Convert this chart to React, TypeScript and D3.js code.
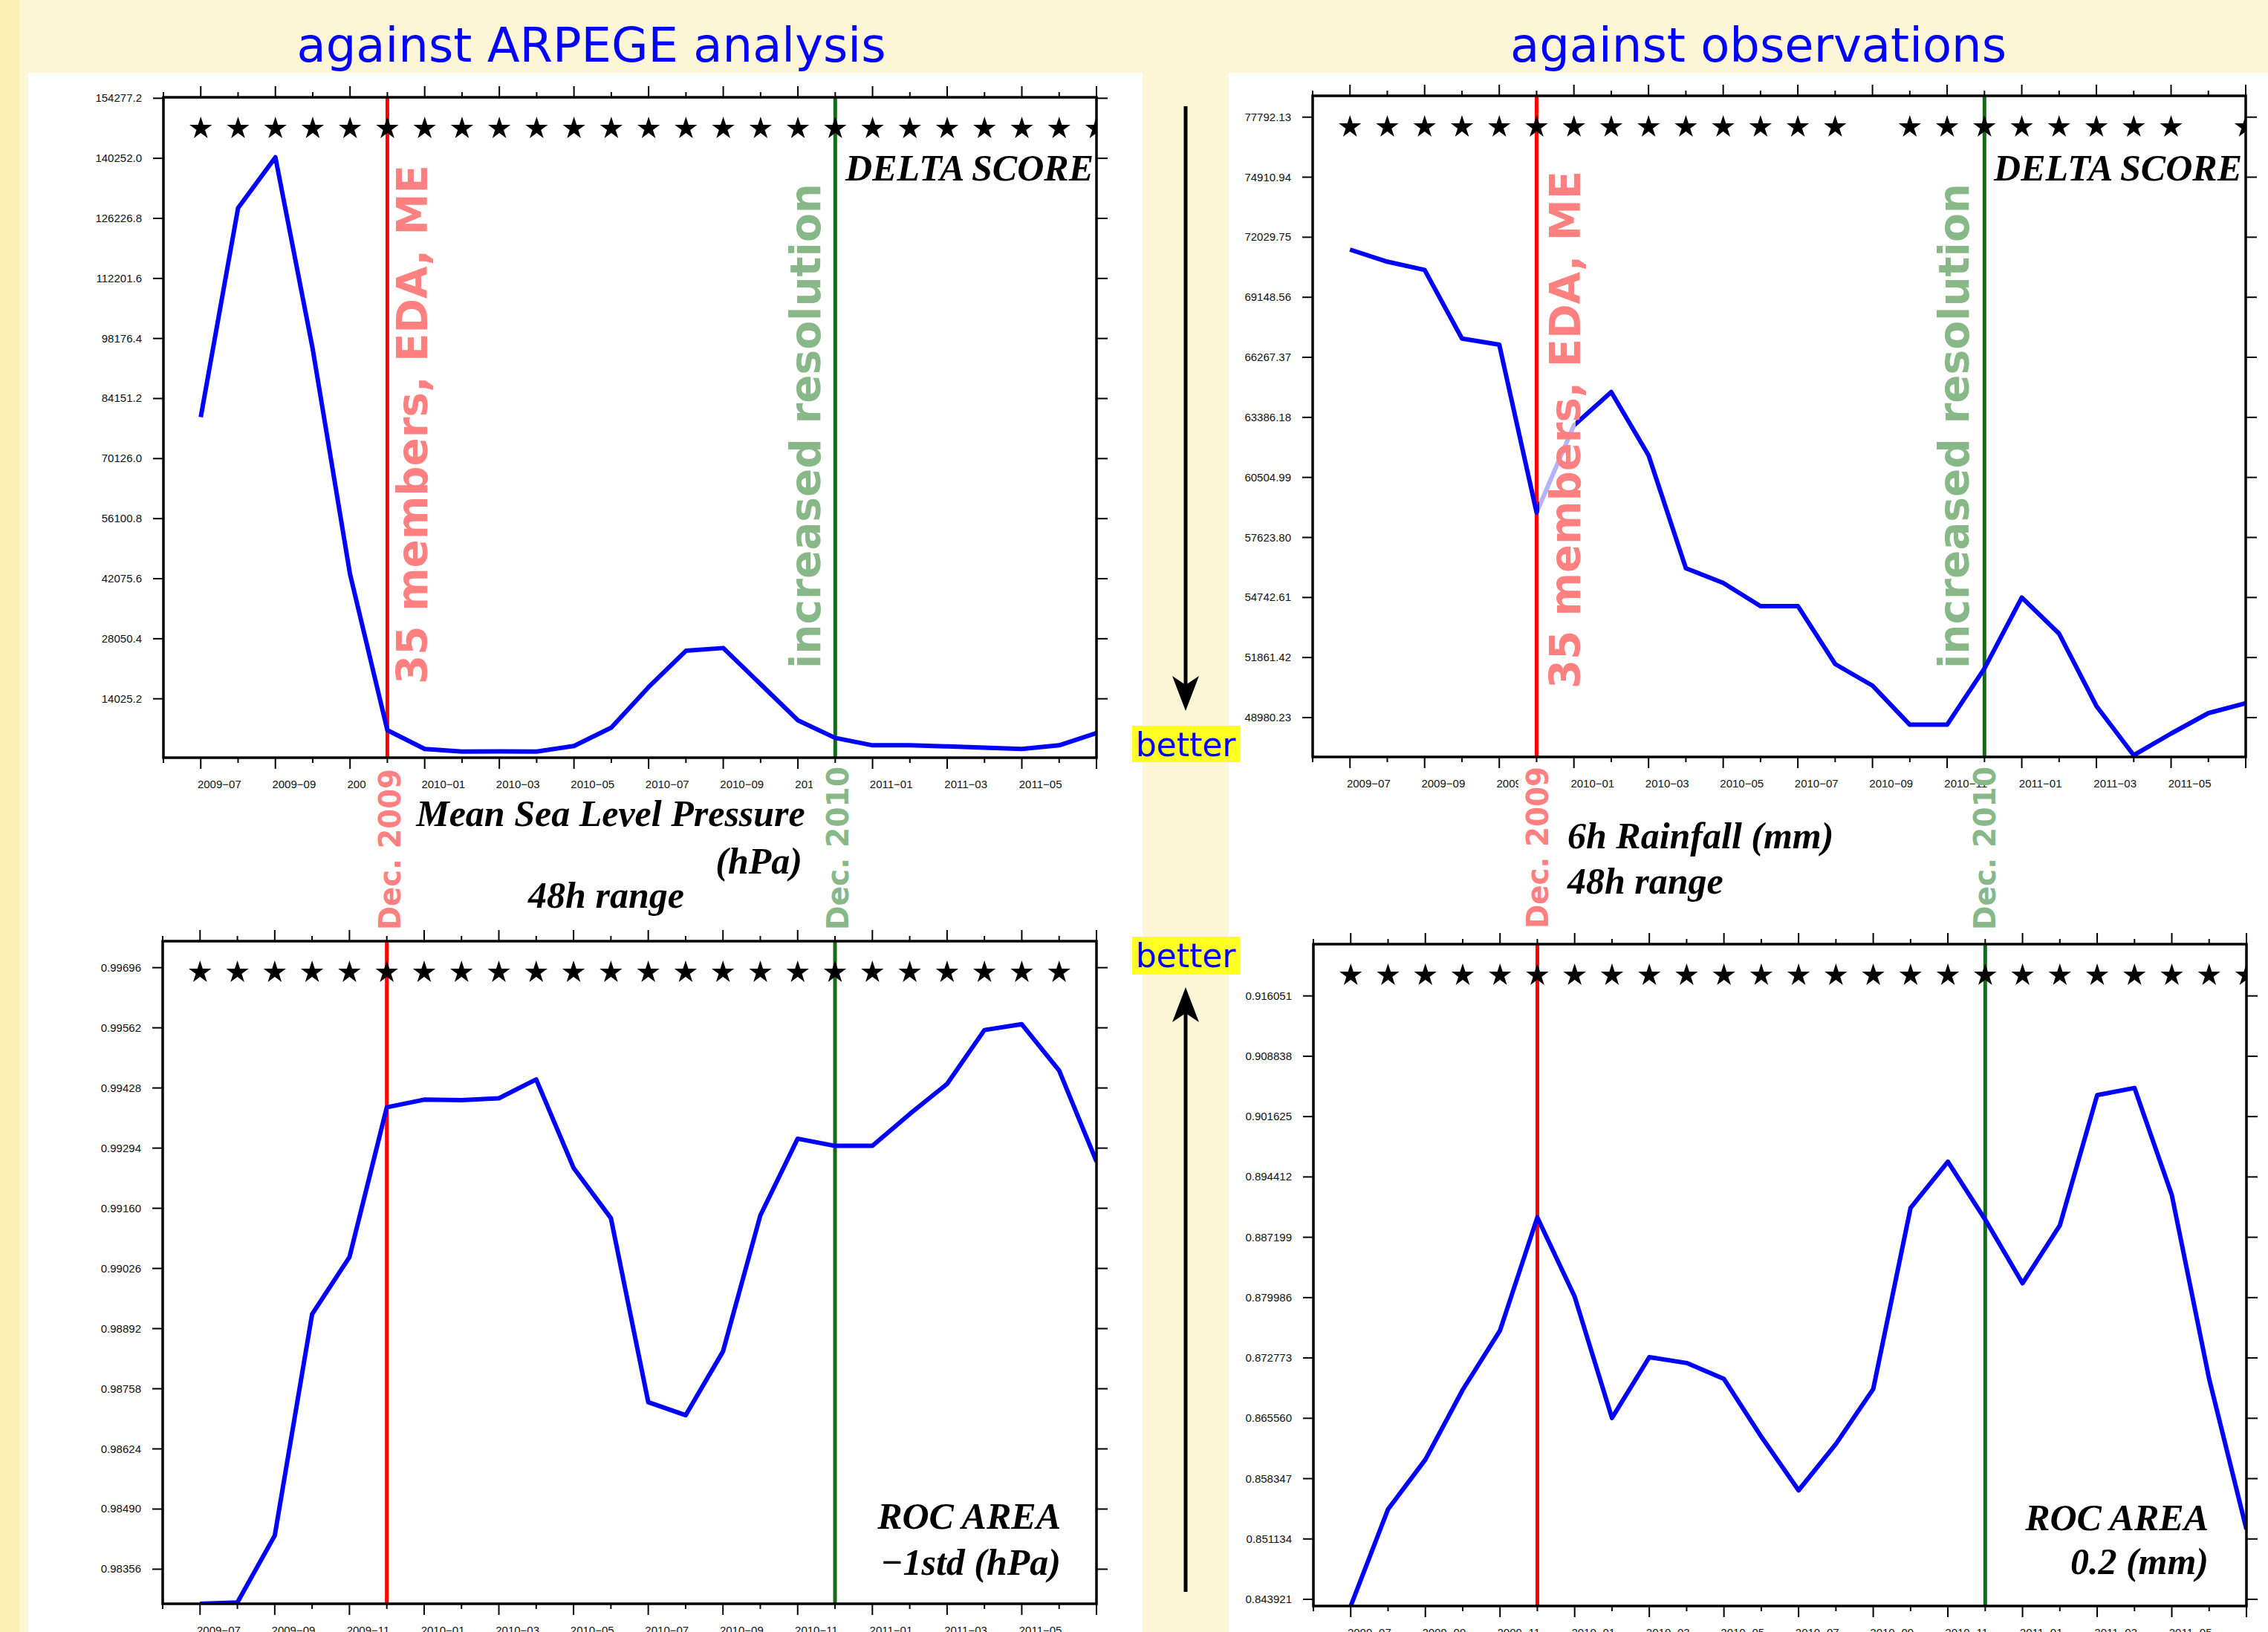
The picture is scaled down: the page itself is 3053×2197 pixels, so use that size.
import React from 'react';
import * as d3 from 'd3';

const W = 3053;
const H = 2197;

// months on the x axis, index 0 = 2009-06 (frame left)
const months = [
  '2009-06', '2009-07', '2009-08', '2009-09', '2009-10', '2009-11', '2009-12',
  '2010-01', '2010-02', '2010-03', '2010-04', '2010-05', '2010-06', '2010-07',
  '2010-08', '2010-09', '2010-10', '2010-11', '2010-12', '2011-01', '2011-02',
  '2011-03', '2011-04', '2011-05', '2011-06', '2011-07',
];

// series values, one per month from 2009-07 to 2011-07
const mslpDelta = [
  79800, 128640, 140490, 95700, 43110, 6680, 2300, 1700, 1750, 1700, 3000, 7300,
  16760, 25240, 25880, 17440, 9000, 4890, 3160, 3160, 2900, 2600, 2300, 3160, 6000,
];
const rainDelta = [
  71436, 70856, 70463, 67170, 66874, 58818, 63000, 64600, 61563, 56145, 55443, 54327,
  54327, 51547, 50513, 48638, 48638, 51340, 54740, 53008, 49533, 47173, 48214, 49194, 49670,
];
const rocMslp = [
  0.98279, 0.98282, 0.98431, 0.98924, 0.99051, 0.99385, 0.99402, 0.99401, 0.99405,
  0.99447, 0.9925, 0.99138, 0.98728, 0.98699, 0.98841, 0.99144, 0.99315, 0.99299,
  0.99299, 0.9937, 0.99437, 0.99557, 0.9957, 0.99467, 0.99264,
];
const rocRain = [
  0.84312, 0.85469, 0.86062, 0.86896, 0.87606, 0.88957, 0.8801, 0.8656, 0.87287,
  0.87217, 0.87027, 0.86336, 0.85695, 0.86249, 0.86906, 0.8907, 0.89623, 0.88931,
  0.8817, 0.88862, 0.90419, 0.90505, 0.89225, 0.87027, 0.85228,
];

// y tick values as printed
const mslpTicks = [14025.2, 28050.4, 42075.6, 56100.8, 70126.0, 84151.2, 98176.4, 112201.6, 126226.8, 140252.0, 154277.2];
const rainTicks = [48980.23, 51861.42, 54742.61, 57623.8, 60504.99, 63386.18, 66267.37, 69148.56, 72029.75, 74910.94, 77792.13];
const rocMslpTicks = [0.98356, 0.9849, 0.98624, 0.98758, 0.98892, 0.99026, 0.9916, 0.99294, 0.99428, 0.99562, 0.99696];
const rocRainTicks = [0.843921, 0.851134, 0.858347, 0.86556, 0.872773, 0.879986, 0.887199, 0.894412, 0.901625, 0.908838, 0.916051];

// month indices carrying a significance star
const starsMslpDelta = d3.range(1, 26);
const starsRainDelta = d3.range(1, 26).filter(i => i !== 15 && i !== 24);
const starsRocMslp = d3.range(1, 25);
const starsRocRain = d3.range(1, 26);

const RED_MONTH = 6;   // 2009-12
const GREEN_MONTH = 18; // 2010-12

const PINK = '#ff8080';
const LIGHTGREEN = '#88b888';

const Panel = ({ id, box, values, domain, ticks, fmt, stars }) => {
  const x = d3.scaleLinear().domain([0, months.length - 1]).range([box.left, box.right]);
  const y = d3.scaleLinear().domain(domain).range([box.bottom, box.top]);
  const line = d3.line<number>().x((d, i) => x(i + 1)).y(d => y(d));
  const star = d3.symbol().type(d3.symbolStar).size(285)();
  const starY = box.top + 42;
  const f = d3.format(fmt);

  return (
    <g>
      <defs>
        <clipPath id={id}>
          <rect x={box.left} y={box.top} width={box.right - box.left} height={box.bottom - box.top} />
        </clipPath>
      </defs>

      {/* x ticks top and bottom */}
      {months.map((m, i) => {
        const len = i % 2 === 1 ? 15 : 7;
        return (
          <g key={m} stroke="#000" strokeWidth={2}>
            <line x1={x(i)} x2={x(i)} y1={box.top - len} y2={box.top} />
            <line x1={x(i)} x2={x(i)} y1={box.bottom} y2={box.bottom + len} />
          </g>
        );
      })}
      {months.map((m, i) =>
        i % 2 === 1 && i < 24 ? (
          <text key={'l' + m} x={x(i + 0.5)} y={box.bottom + 41} textAnchor="middle"
            fontFamily="'Liberation Sans', Arial, sans-serif" fontSize={15} fill="#111">
            {m.replace('-', '−')}
          </text>
        ) : null
      )}

      {/* y ticks left and right */}
      {ticks.map(t => (
        <g key={t}>
          <line x1={box.left - 14} x2={box.left} y1={y(t)} y2={y(t)} stroke="#000" strokeWidth={2} />
          <line x1={box.right} x2={box.right + 15} y1={y(t)} y2={y(t)} stroke="#000" strokeWidth={2} />
          <text x={box.left - 29} y={y(t) + 5} textAnchor="end"
            fontFamily="'Liberation Sans', Arial, sans-serif" fontSize={15} fill="#111">
            {f(t)}
          </text>
        </g>
      ))}

      <g clipPath={`url(#${id})`}>
        <line x1={x(RED_MONTH)} x2={x(RED_MONTH)} y1={box.top} y2={box.bottom} stroke="#ff0000" strokeWidth={5} />
        <line x1={x(GREEN_MONTH)} x2={x(GREEN_MONTH)} y1={box.top} y2={box.bottom} stroke="#176b17" strokeWidth={5} />
        <path d={line(values)} fill="none" stroke="#0000ff" strokeWidth={6} strokeLinejoin="round" />
        {stars.map(i => (
          <path key={'s' + i} d={star} transform={`translate(${x(i)},${starY})`} fill="#000" />
        ))}
      </g>

      <rect x={box.left} y={box.top} width={box.right - box.left} height={box.bottom - box.top}
        fill="none" stroke="#000" strokeWidth={3.5} />
    </g>
  );
};

const VText = ({ x, y, text, color, size, len }) => (
  <text x={x} y={y} transform={`rotate(-90 ${x} ${y})`} fill={color}
    fontFamily="'DejaVu Sans', Verdana, sans-serif" fontWeight="bold" fontSize={size}
    textLength={len} lengthAdjust="spacingAndGlyphs">
    {text}
  </text>
);

const serif = "'Liberation Serif', 'Times New Roman', serif";

const App = () => {
  const boxA = { left: 220, right: 1476, top: 131, bottom: 1020 };
  const boxB = { left: 1767, right: 3023, top: 129, bottom: 1019 };
  const boxC = { left: 219, right: 1476, top: 1267, bottom: 2159 };
  const boxD = { left: 1768, right: 3024, top: 1271, bottom: 2162 };

  return (
    <svg width={W} height={H} style={{ position: 'absolute', left: 0, top: 0, display: 'block' }}>
      <rect width={W} height={H} fill="#fdf6d6" />
      <rect width={26} height={H} fill="#fdf0b4" />
      <rect x={38} y={98} width={1500} height={H - 98} fill="#fff" />
      <rect x={1654} y={98} width={W - 1654} height={H - 98} fill="#fff" />

      <text x={796} y={83} textAnchor="middle" fill="#0000ff" fontSize={64}
        fontFamily="'DejaVu Sans', Verdana, sans-serif">against ARPEGE analysis</text>
      <text x={2367} y={83} textAnchor="middle" fill="#0000ff" fontSize={64}
        fontFamily="'DejaVu Sans', Verdana, sans-serif">against observations</text>

      <Panel id="cA" box={boxA} values={mslpDelta} domain={[267, 154502]} ticks={mslpTicks} fmt=".1f" stars={starsMslpDelta} />
      <Panel id="cB" box={boxB} values={rainDelta} domain={[47091, 78815]} ticks={rainTicks} fmt=".2f" stars={starsRainDelta} />
      <Panel id="cC" box={boxC} values={rocMslp} domain={[0.98279, 0.99755]} ticks={rocMslpTicks} fmt=".5f" stars={starsRocMslp} />
      <Panel id="cD" box={boxD} values={rocRain} domain={[0.84312, 0.92224]} ticks={rocRainTicks} fmt=".6f" stars={starsRocRain} />

      {/* rotated annotations inside the top charts */}
      <VText x={575} y={921} text="35 members, EDA, ME" color={PINK} size={57} len={699} />
      <VText x={1104} y={900} text="increased resolution" color={LIGHTGREEN} size={57} len={653} />
      <rect x={2072} y={225} width={49} height={710} fill="#fff" opacity={0.7} />
      <VText x={2127} y={927} text="35 members, EDA, ME" color={PINK} size={57} len={697} />
      <VText x={2650} y={900} text="increased resolution" color={LIGHTGREEN} size={57} len={653} />

      {/* dates between the rows */}
      <rect x={493} y={1031} width={50} height={221} fill="#fff" />
      <VText x={539} y={1252} text="Dec. 2009" color={PINK} size={40} len={217} />
      <rect x={1094} y={1031} width={52} height={221} fill="#fff" />
      <VText x={1142} y={1252} text="Dec. 2010" color={LIGHTGREEN} size={40} len={220} />
      <rect x={2044} y={1031} width={44} height={221} fill="#fff" />
      <VText x={2084} y={1250} text="Dec. 2009" color={PINK} size={40} len={218} />
      <VText x={2686} y={1252} text="Dec. 2010" color={LIGHTGREEN} size={40} len={220} />

      {/* score names */}
      <g fontFamily={serif} fontWeight="bold" fontStyle="italic" fill="#000">
        <text x={1472} y={243} textAnchor="end" fontSize={50}>DELTA SCORE</text>
        <text x={3018} y={243} textAnchor="end" fontSize={50}>DELTA SCORE</text>
        <text x={822} y={1112} textAnchor="middle" fontSize={50}>Mean Sea Level Pressure</text>
        <text x={1080} y={1176} textAnchor="end" fontSize={50}>(hPa)</text>
        <text x={816} y={1222} textAnchor="middle" fontSize={50}>48h range</text>
        <text x={2110} y={1142} fontSize={50}>6h Rainfall (mm)</text>
        <text x={2110} y={1203} fontSize={50}>48h range</text>
        <text x={1428} y={2058} textAnchor="end" fontSize={50}>ROC AREA</text>
        <text x={1428} y={2120} textAnchor="end" fontSize={50}>−1std (hPa)</text>
        <text x={2973} y={2060} textAnchor="end" fontSize={50}>ROC AREA</text>
        <text x={2973} y={2119} textAnchor="end" fontSize={50}>0.2 (mm)</text>
      </g>

      {/* "better" arrows in the middle strip */}
      <line x1={1596} x2={1596} y1={143} y2={930} stroke="#000" strokeWidth={5} />
      <path d="M1596,957 L1578,910 L1596,922 L1614,910 Z" fill="#000" />
      <rect x={1524} y={977} width={145} height={49} fill="#ffff22" />
      <text x={1596} y={1018} textAnchor="middle" fill="#0000ff" fontSize={44}
        fontFamily="'DejaVu Sans', Verdana, sans-serif">better</text>

      <rect x={1524} y={1261} width={145} height={51} fill="#ffff22" />
      <text x={1596} y={1302} textAnchor="middle" fill="#0000ff" fontSize={44}
        fontFamily="'DejaVu Sans', Verdana, sans-serif">better</text>
      <path d="M1596,1329 L1578,1376 L1596,1364 L1614,1376 Z" fill="#000" />
      <line x1={1596} x2={1596} y1={1355} y2={2143} stroke="#000" strokeWidth={5} />
    </svg>
  );
};

export default App;
